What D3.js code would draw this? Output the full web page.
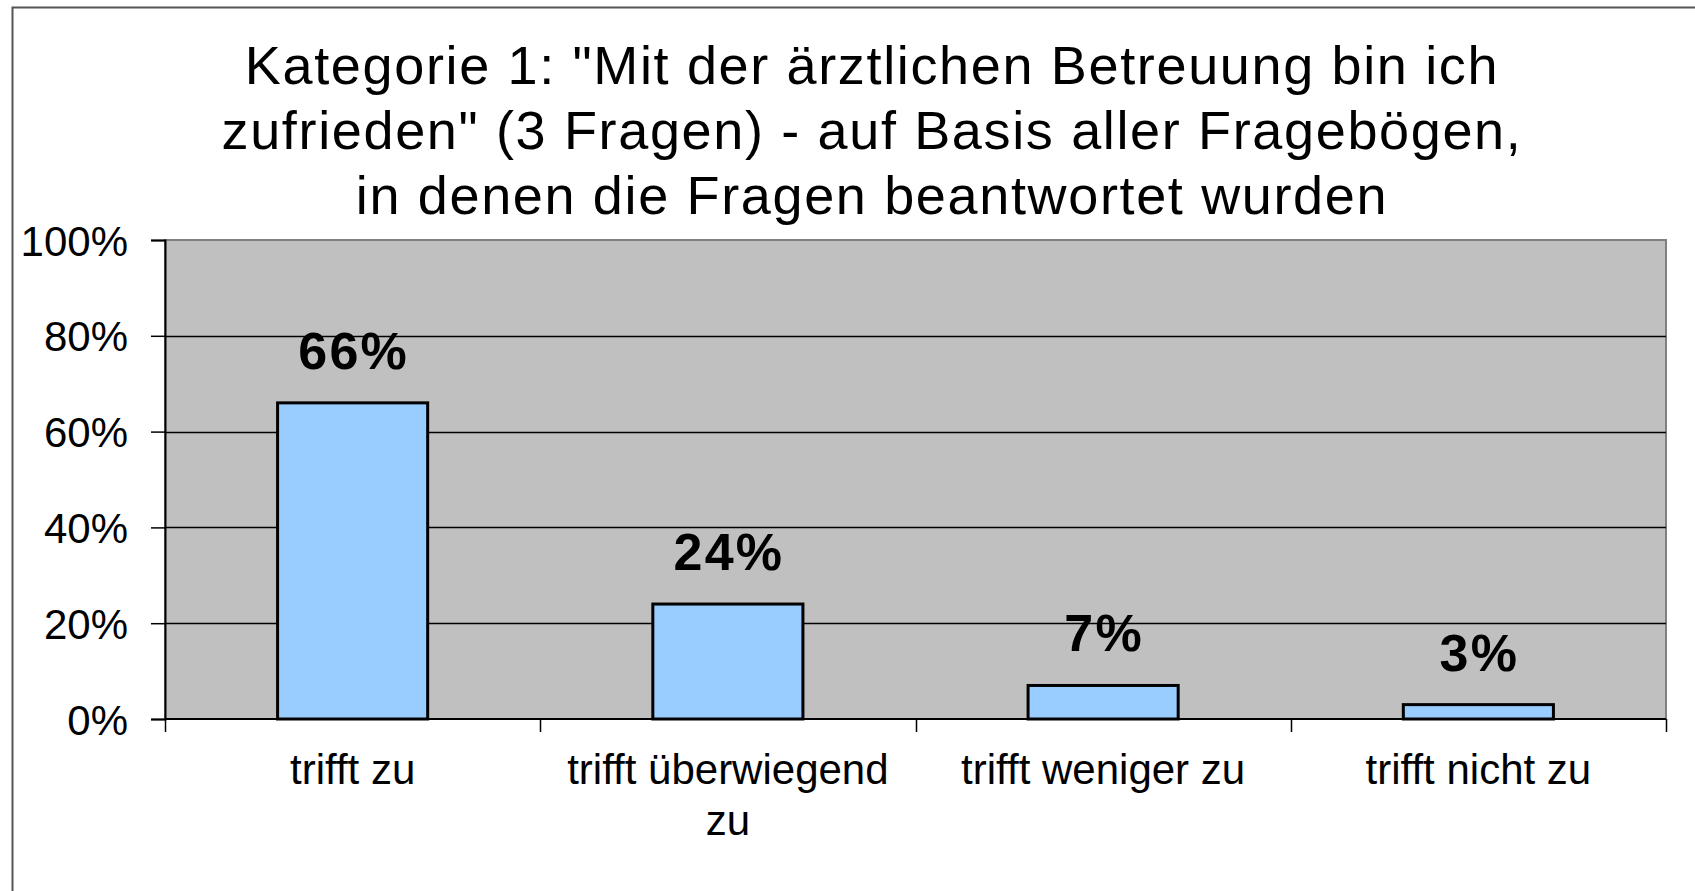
<!DOCTYPE html>
<html>
<head>
<meta charset="utf-8">
<script src="https://cdn.jsdelivr.net/npm/d3@7"></script>
<style>
  html, body { margin: 0; padding: 0; background: #fff; overflow: hidden; }
  svg { display: block; font-family: "Liberation Sans", Arial, sans-serif; }
</style>
</head>
<body>
<div id="chart"></div>
<script>
const titleLines = [
    'Kategorie 1: "Mit der ärztlichen Betreuung bin ich',
    'zufrieden" (3 Fragen) - auf Basis aller Fragebögen,',
    'in denen die Fragen beantwortet wurden'
];
const categories = ["trifft zu", "trifft überwiegend zu", "trifft weniger zu", "trifft nicht zu"];
const values = [66, 24, 7, 3];
const yTicks = [0, 20, 40, 60, 80, 100];

let width = 1695, height = 891;
let plot = {left: 165, top: 240, right: 1666, bottom: 719};

let svg = d3.select("#chart").append("svg")
    .attr("width", width)
    .attr("height", height);

// outer chart border (right / bottom edges fall outside the window)
svg.append("rect")
    .attr("x", 12.5)
    .attr("y", 7.5)
    .attr("width", 1716)
    .attr("height", 920)
    .style("fill", "#fff")
    .style("stroke", "#555")
    .style("stroke-width", "2px");

// title
svg.append("g")
    .selectAll("text")
    .data(titleLines)
  .enter().append("text")
    .attr("x", 872)
    .attr("y", function(d, i) { return 84 + i * 65; })
    .attr("text-anchor", "middle")
    .style("font-size", "54px")
    .style("letter-spacing", "1.65px")
    .style("fill", "#000")
    .text(function(d) { return d; });

let x = d3.scaleBand()
    .domain(categories)
    .range([plot.left, plot.right])
    .paddingInner(0.6)
    .paddingOuter(0.3);

let y = d3.scaleLinear()
    .domain([0, 100])
    .range([plot.bottom, plot.top]);

// plot area
svg.append("rect")
    .attr("x", plot.left)
    .attr("y", plot.top)
    .attr("width", plot.right - plot.left)
    .attr("height", plot.bottom - plot.top)
    .style("fill", "#c0c0c0")
    .style("stroke", "#808080")
    .style("stroke-width", "2px");

// gridlines
svg.append("g")
    .selectAll("line")
    .data(yTicks.filter(function(t) { return t > 0 && t < 100; }))
  .enter().append("line")
    .attr("x1", plot.left)
    .attr("x2", plot.right)
    .attr("y1", function(d) { return Math.round(y(d)) + 0.5; })
    .attr("y2", function(d) { return Math.round(y(d)) + 0.5; })
    .style("stroke", "#000")
    .style("stroke-width", "1.5px");

// bars
svg.append("g")
    .selectAll("rect")
    .data(values)
  .enter().append("rect")
    .attr("x", function(d, i) { return x(categories[i]); })
    .attr("y", function(d) { return y(d); })
    .attr("width", x.bandwidth())
    .attr("height", function(d) { return y(0) - y(d); })
    .style("fill", "#99ccff")
    .style("stroke", "#000")
    .style("stroke-width", "3px");

// value labels
svg.append("g")
    .selectAll("text")
    .data(values)
  .enter().append("text")
    .attr("x", function(d, i) { return x(categories[i]) + x.bandwidth() / 2 + 1; })
    .attr("y", function(d) { return y(d) - 34; })
    .attr("text-anchor", "middle")
    .style("font-size", "52px")
    .style("font-weight", "bold")
    .style("letter-spacing", "2.2px")
    .text(function(d) { return d + "%"; });

// y axis
let yAxis = svg.append("g")
    .attr("transform", "translate(" + plot.left + ",0)")
    .call(d3.axisLeft(y)
        .tickValues(yTicks)
        .tickSize(14)
        .tickPadding(23)
        .tickFormat(function(d) { return d + "%"; }));
yAxis.select(".domain").style("stroke", "#000").style("stroke-width", "2px");
yAxis.selectAll(".tick line").style("stroke", "#000").style("stroke-width", "1.5px");
yAxis.selectAll(".tick text")
    .style("font-size", "42px")
    .style("font-family", "'Liberation Sans', Arial, sans-serif")
    .style("fill", "#000")
    .attr("dy", "0.36em");

// x axis line + ticks at category boundaries
let xAxis = svg.append("g");
xAxis.append("line")
    .attr("x1", plot.left)
    .attr("x2", plot.right)
    .attr("y1", plot.bottom)
    .attr("y2", plot.bottom)
    .style("stroke", "#000")
    .style("stroke-width", "2px");

let boundaries = categories.map(function(c) { return x(c) - x.step() * x.paddingInner() / 2; })
    .concat([plot.right]);
xAxis.selectAll(".xtick")
    .data(boundaries)
  .enter().append("line")
    .attr("class", "xtick")
    .attr("x1", function(d) { return Math.round(d) + 0.5; })
    .attr("x2", function(d) { return Math.round(d) + 0.5; })
    .attr("y1", plot.bottom)
    .attr("y2", plot.bottom + 13)
    .style("stroke", "#000")
    .style("stroke-width", "1.5px");

// category labels, wrapped to the band width
let catLabels = xAxis.selectAll(".xlabel")
    .data(categories)
  .enter().append("text")
    .attr("class", "xlabel")
    .attr("x", function(d) { return x(d) + x.bandwidth() / 2; })
    .attr("y", 784)
    .attr("text-anchor", "middle")
    .style("font-size", "42px");

catLabels.each(function(d) {
    let text = d3.select(this),
        words = d.split(" "),
        cx = text.attr("x"),
        maxWidth = x.step() - 20,
        line = [],
        tspan = text.append("tspan").attr("x", cx).attr("dy", 0);
    words.forEach(function(word) {
        line.push(word);
        tspan.text(line.join(" "));
        if (tspan.node().getComputedTextLength() > maxWidth && line.length > 1) {
            line.pop();
            tspan.text(line.join(" "));
            line = [word];
            tspan = text.append("tspan").attr("x", cx).attr("dy", 51).text(word);
        }
    });
});
</script>
</body>
</html>
